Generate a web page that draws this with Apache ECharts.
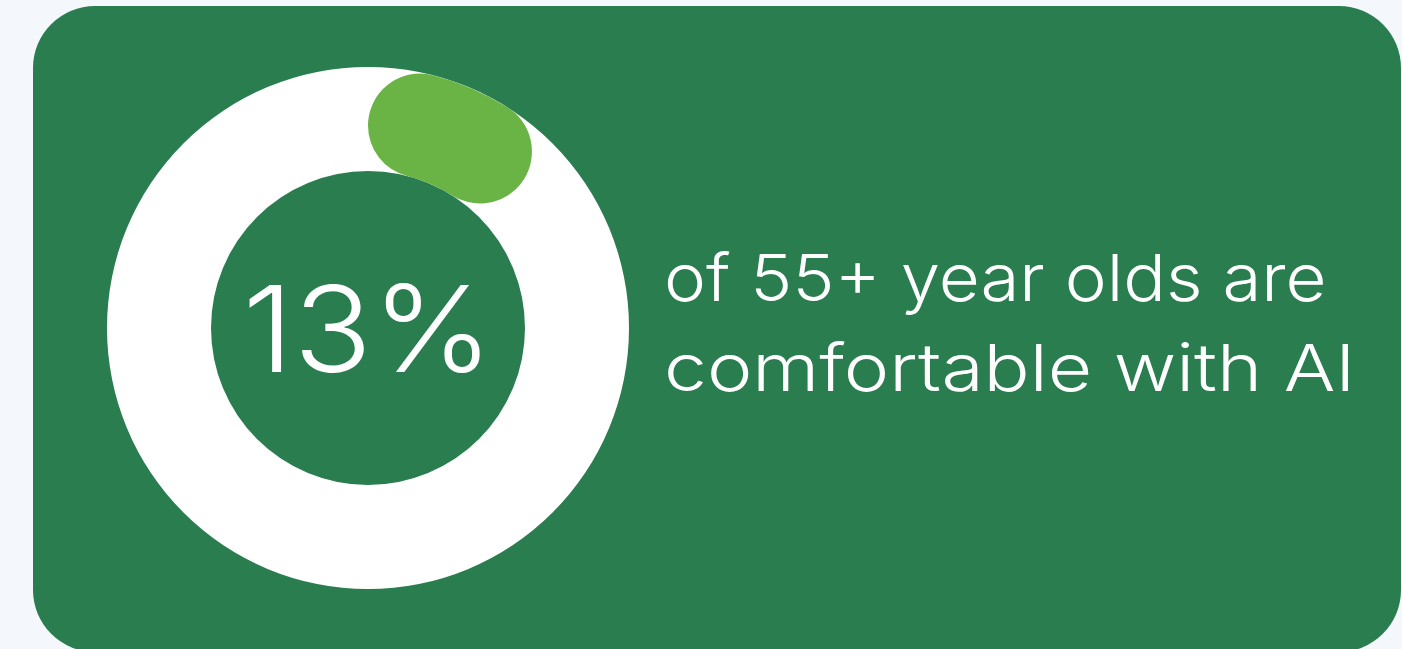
<!DOCTYPE html>
<html>
<head>
<meta charset="utf-8">
<style>
  html, body { margin: 0; padding: 0; background: #f4f7fb; }
  #chart { width: 1402px; height: 649px; }
</style>
<script src="https://cdn.jsdelivr.net/npm/echarts@6/dist/echarts.min.js"></script>
</head>
<body>
<div id="chart"></div>
<script>
// Share of 55+ year olds comfortable with AI, and the remainder
const categories = ['Comfortable with AI', 'Not comfortable'];
const shareValues = [13, 87];
const captionLines = ['of 55+ year olds are', 'comfortable with AI'];

const CARD = '#2a7d4e';
const ACCENT = '#6ab446';
const FONT = 'Inter, "Open Sans", sans-serif';
const captionStretch = [1.09, 1.18];

const chart = echarts.init(document.getElementById('chart'), null, { renderer: 'canvas' });

// caption lines, one text element each, widened to the wide geometric look
const captionGraphics = captionLines.map((line, i) => ({
  type: 'text', z: 10, silent: true,
  x: 664, y: 281 + i * 90,
  scaleX: captionStretch[i], scaleY: 1,
  style: {
    x: 0, y: 0,
    text: line,
    fill: '#ffffff',
    font: '300 65px ' + FONT,
    align: 'left',
    verticalAlign: 'middle'
  }
}));

const option = {
  backgroundColor: '#f4f7fb',
  animation: false,
  graphic: [
    {
      type: 'rect', z: 0, silent: true,
      shape: { x: 33, y: 6, width: 1368, height: 646, r: 62 },
      style: { fill: CARD }
    },
    {
      // centre figure
      type: 'text', z: 10, silent: true,
      x: 368, y: 336,
      scaleX: 1.08, scaleY: 1,
      style: {
        x: 0, y: 0,
        text: shareValues[0] + '%',
        fill: '#ffffff',
        font: '300 120px ' + FONT,
        align: 'center',
        verticalAlign: 'middle'
      }
    }
  ].concat(captionGraphics),
  series: [
    {
      // full white track
      type: 'pie', silent: true, z: 2,
      center: [368, 328], radius: [157, 261],
      label: { show: false }, labelLine: { show: false },
      itemStyle: { color: '#ffffff', borderWidth: 0 },
      data: [{ name: 'track', value: 100 }]
    },
    {
      type: 'pie', silent: true, z: 3,
      center: [368, 328], radius: [157, 261],
      startAngle: 90, clockwise: true,
      label: { show: false }, labelLine: { show: false },
      itemStyle: { borderRadius: 52, borderWidth: 0 },
      data: [
        { name: categories[0], value: shareValues[0], itemStyle: { color: ACCENT } },
        { name: categories[1], value: shareValues[1], itemStyle: { color: 'rgba(0,0,0,0)' } }
      ]
    }
  ]
};

chart.setOption(option);
</script>
</body>
</html>
